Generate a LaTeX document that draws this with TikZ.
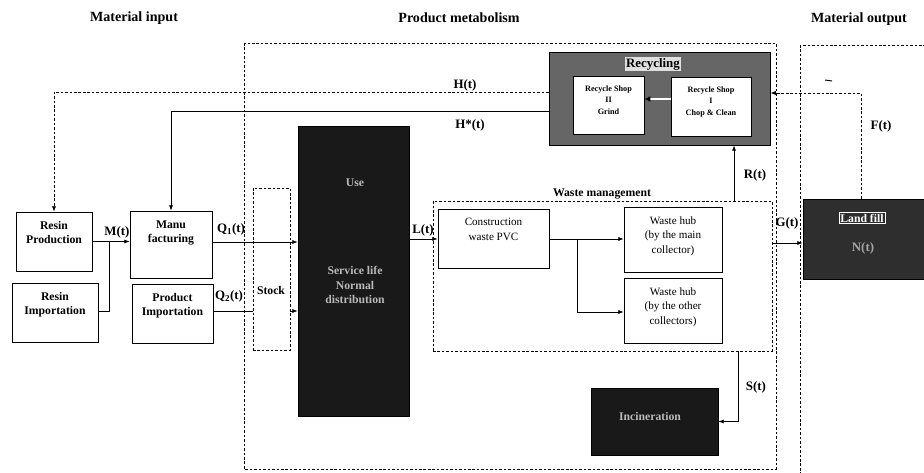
\documentclass[tikz,border=0pt]{standalone}
\usepackage{fontspec}
\setmainfont{Liberation Serif}
\usetikzlibrary{arrows.meta,fit}

\tikzset{
  box/.style={draw, fill=white, line width=0.7pt, inner sep=0pt},
  darkbox/.style={draw, fill=black!90, line width=0.7pt, inner sep=0pt},
  region/.style={draw, dash pattern=on 2.2pt off 1.6pt, line width=0.7pt, inner sep=0pt},
  intext/.style={anchor=north, align=center, yshift=-5pt, font=\fontsize{10}{12}\selectfont\bfseries},
  intextr/.style={intext, font=\fontsize{9.5}{12.5}\selectfont},
  shoptext/.style={intext, font=\fontsize{7}{10}\selectfont\bfseries},
  darktext/.style={align=center, text=gray!55, font=\fontsize{10}{12.5}\selectfont\bfseries},
  flow/.style={line width=0.6pt, -{Latex[length=4.5pt, width=3.5pt]}},
  dflow/.style={flow, dash pattern=on 2.2pt off 1.6pt},
  plain/.style={line width=0.6pt},
  lbl/.style={font=\fontsize{11}{13}\selectfont\bfseries},
  title/.style={font=\fontsize{12}{14}\selectfont\bfseries},
}

\begin{document}
\begin{tikzpicture}[x=0.03cm, y=-0.03cm]
  \useasboundingbox (0,0) rectangle (924,472);
  \clip (0,0) rectangle (924,472);

  % Titles
  \node[title] (tin) at (134,18) {Material input};
  \node[title] (tmeta) at (459,18) {Product metabolism};
  \node[title] (tout) at (859,19) {Material output};

  % Regions
  \draw[region] (244,43) rectangle (776,469);
  \draw[region] (800,45) rectangle (940,480);
  \draw[line width=0.8pt] (825,80) -- (832,81);

  % Material input
  \node[box, fit={(16,212) (92,271)}] (resprod) {};
  \node[intext] (resprodtxt) at (resprod.north) {Resin\\Production};
  \node[box, fit={(12,283) (98,342)}] (resimp) {};
  \node[intext] (resimptxt) at (resimp.north) {Resin\\Importation};
  \node[box, fit={(130,211) (212,278)}] (manu) {};
  \node[intext] (manutxt) at (manu.north) {Manu\\facturing};
  \node[box, fit={(132,284) (213,343)}] (prodimp) {};
  \node[intext] (prodimptxt) at (prodimp.north) {Product\\Importation};

  % Stock and use
  \node[region, fit={(253,188) (290,350)}] (stock) {};
  \node[intext, anchor=center, yshift=0pt] (stocktxt) at (271,285) {Stock};
  \node[darkbox, fit={(298,126) (409,416)}] (use) {};
  \node[darktext] (usetxt) at (355,183) {Use};
  \node[darktext] (lifetxt) at (355,285) {Service life\\Normal\\distribution};

  % Waste management
  \node[region, fit={(433,201) (772,351)}] (wastemgmt) {};
  \node[intext, anchor=south, yshift=0pt] (wastemgmttxt) at (602,197) {Waste management};
  \node[box, fit={(438,209) (549,268)}] (constr) {};
  \node[intextr] (constrtxt) at (constr.north) {Construction\\waste PVC};
  \node[box, fit={(624,207) (722,272)}] (hubmain) {};
  \node[intextr] (hubmaintxt) at (hubmain.north) {Waste hub\\(by the main\\collector)};
  \node[box, fit={(624,278) (722,343)}] (hubother) {};
  \node[intextr] (hubothertxt) at (hubother.north) {Waste hub\\(by the other\\collectors)};

  % Recycling
  \node[draw, fill=black!60, line width=0.8pt, inner sep=0pt, fit={(549,52) (770,145)}] (recyc) {};
  \node[lbl, fill=gray!25, inner sep=1pt] (recyctxt) at (653,64) {Recycling};
  \node[box, fit={(573,76) (644,134)}] (shop2) {};
  \node[shoptext] (shop2txt) at (shop2.north) {Recycle Shop\\II\\Grind};
  \node[box, fit={(671,77) (751,136)}] (shop1) {};
  \node[shoptext] (shop1txt) at (shop1.north) {Recycle Shop\\I\\Chop \& Clean};
  \draw[line width=2pt, white, -{Latex[color=black, length=5pt, width=5pt]}] (shop1.west |- 0,99) -- (shop2.east |- 0,99);

  % Sinks
  \node[draw, fill=black!82, line width=0.7pt, inner sep=0pt, fit={(803,199) (940,279)}] (landfill) {};
  \node[lbl, draw=white, text=white, inner sep=1pt, font=\fontsize{10}{12}\selectfont\bfseries] (landfilltxt) at (862,218) {Land fill};
  \node[lbl, text=gray!70] (ntxt) at (863,248) {N(t)};
  \node[darkbox, fit={(591,388) (718,455)}] (incin) {};
  \node[darktext] (incintxt) at (650,416) {Incineration};

  % Flows
  \coordinate (hrow) at (0,92);
  \coordinate (hsrow) at (0,111);
  \coordinate (q1row) at (0,242);
  \coordinate (q2row) at (0,311);
  \coordinate (mjoin) at (109,241.5);
  \coordinate (split) at (577,239);
  \coordinate (rcol) at (734,0);
  \coordinate (grow) at (0,243);
  \coordinate (fcol) at (861,0);
  \coordinate (frow) at (0,93);
  \coordinate (scol) at (738,0);

  \draw[dflow] (recyc.west |- hrow) -| (resprod.north);
  \draw[flow] (recyc.west |- hsrow) -| (manu.north);
  \draw[flow] (resprod.east) -- (manu.west |- resprod.east);
  \draw[plain] (resimp.east |- q2row) -| (mjoin);
  \draw[flow] (manu.east |- q1row) -- (use.west |- q1row);
  \draw[plain] (prodimp.east |- q2row) -- (stock.west |- q2row);
  \draw[flow] (stock.east |- q2row) -- (use.west |- q2row);
  \draw[flow] (use.east |- split) -- (constr.west |- split);
  \draw[flow] (constr.east |- split) -- (hubmain.west |- split);
  \draw[flow] (split) |- (hubother.west |- 0,312);
  \draw[flow] (wastemgmt.north -| rcol) -- (recyc.south -| rcol);
  \draw[flow] (wastemgmt.east |- grow) -- (landfill.west |- grow);
  \draw[dflow] (landfill.north -| fcol) |- (recyc.east |- frow);
  \draw[flow] (wastemgmt.south -| scol) |- (incin.east);

  % Flow labels
  \node[lbl] (lblh) at (465,85) {H(t)};
  \node[lbl] (lblhs) at (470,125) {H*(t)};
  \node[lbl] (lblm) at (117,232) {M(t)};
  \node[lbl] (lblqa) at (231,229) {Q\textsubscript{1}(t)};
  \node[lbl] (lblqb) at (229,296) {Q\textsubscript{2}(t)};
  \node[lbl] (lbll) at (423,230) {L(t)};
  \node[lbl] (lblr) at (755,175) {R(t)};
  \node[lbl] (lblg) at (787,223) {G(t)};
  \node[lbl] (lblf) at (881,126) {F(t)};
  \node[lbl] (lbls) at (756,387) {S(t)};
\end{tikzpicture}
\end{document}
